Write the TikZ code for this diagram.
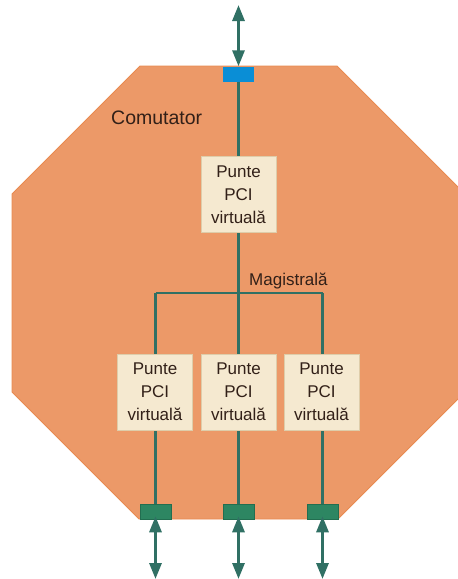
\documentclass[tikz,border=0pt]{standalone}
\usepackage{fontspec}
\setmainfont{Liberation Sans}
\usetikzlibrary{arrows.meta}
\definecolor{oct}{RGB}{236,153,104}
\definecolor{octline}{RGB}{232,138,80}
\definecolor{cream}{RGB}{245,233,208}
\definecolor{creamline}{RGB}{222,205,170}
\definecolor{teal}{RGB}{48,112,100}
\definecolor{portblue}{RGB}{10,142,214}
\definecolor{portgreen}{RGB}{45,134,98}
\definecolor{portgreenline}{RGB}{34,110,80}
\definecolor{txt}{RGB}{50,32,24}
\tikzset{
  bridge/.style={draw=creamline, line width=0.8pt, fill=cream, align=center, text=txt,
    font=\fontsize{17}{23}\selectfont, minimum width=75pt, minimum height=76pt, inner sep=0pt},
  port/.style={minimum width=31pt, minimum height=15pt, inner sep=0pt},
  gport/.style={port, fill=portgreen, draw=portgreenline, line width=0.6pt},
  wire/.style={draw=teal, line width=2.6pt},
  biarrow/.style={draw=teal, line width=3pt, {Triangle[length=16pt,width=12pt]}-{Triangle[length=16pt,width=12pt]}},
  lbl/.style={text=txt, inner sep=0pt}
}
\begin{document}
\begin{tikzpicture}[x=1pt,y=-1pt]
\useasboundingbox (0,0) rectangle (458,579);
\begin{scope}
\clip (0,0) rectangle (458,579);
\filldraw[fill=oct, draw=octline, line width=0.8pt]
  (140,66) -- (337,66) -- (465,194) -- (465,392) -- (338,519) -- (139,519) -- (12,392) -- (12,194) -- cycle;
\end{scope}
\node[lbl, font=\fontsize{19.5}{23}\selectfont, anchor=west] (com) at (111,118) {Comutator};

% ports
\node[port, fill=portblue] (ptop) at (238.5,74) {};
\node[gport] (p1) at (155.5,511.5) {};
\node[gport] (p2) at (238.5,511.5) {};
\node[gport] (p3) at (322.5,511.5) {};

% bus
\coordinate (j0) at (238.5,293);
\coordinate (j1) at (155.5,293);
\coordinate (j3) at (322.5,293);
\node[lbl, font=\fontsize{17}{23}\selectfont, anchor=west] (mag) at (249,281) {Magistrală};

% wires (drawn first, boxes on top)
\draw[wire] (ptop.south) -- (j0);
\draw[wire] (j1) -- (j3);
\draw[wire] (j1) -- (p1.north);
\draw[wire] (j0) -- (p2.north);
\draw[wire] (j3) -- (p3.north);

% bridges
\node[bridge] (b0) at (238.5,194.5) {Punte\\PCI\\virtuală};
\node[bridge] (b1) at (155,392) {Punte\\PCI\\virtuală};
\node[bridge] (b2) at (238.5,392) {Punte\\PCI\\virtuală};
\node[bridge] (b3) at (321.5,392) {Punte\\PCI\\virtuală};

% external arrows
\coordinate (t0) at (238.5,5);
\coordinate (q1) at (155.5,579);
\coordinate (q2) at (238.5,579);
\coordinate (q3) at (322.5,579);
\draw[biarrow] (t0) -- (ptop.north);
\draw[biarrow] ([yshift=3pt]p1.south) -- (q1);
\draw[biarrow] ([yshift=3pt]p2.south) -- (q2);
\draw[biarrow] ([yshift=3pt]p3.south) -- (q3);
\end{tikzpicture}
\end{document}
